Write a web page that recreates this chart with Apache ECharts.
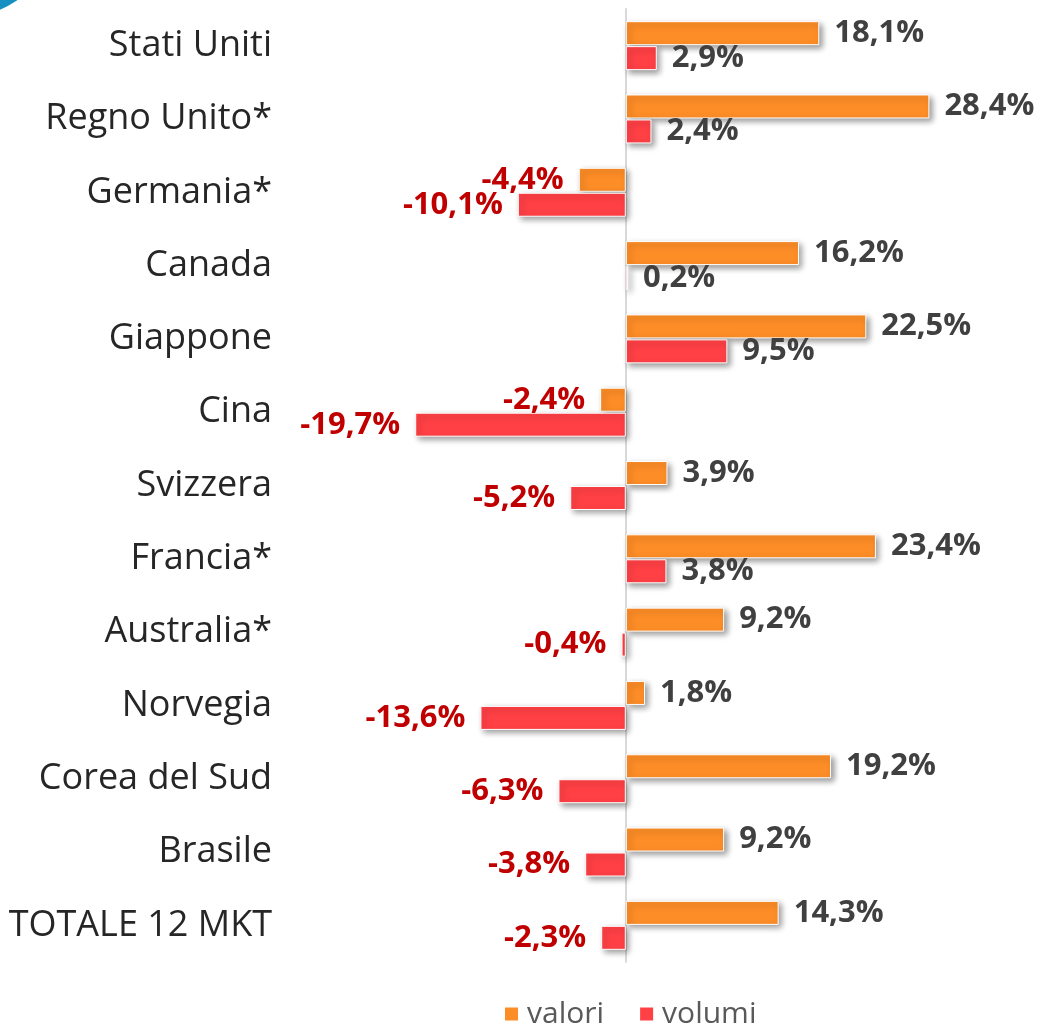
<!DOCTYPE html>
<html lang="it">
<head>
<meta charset="UTF-8">
<title>valori / volumi</title>
<script src="https://cdn.jsdelivr.net/npm/echarts@6/dist/echarts.min.js"></script>
<style>
  html, body { margin: 0; padding: 0; background: #fff; }
  #main { width: 1043px; height: 1024px; }
</style>
</head>
<body>
<div id="main"></div>
<script>
// dati
var paesi = ['Stati Uniti', 'Regno Unito*', 'Germania*', 'Canada', 'Giappone', 'Cina',
  'Svizzera', 'Francia*', 'Australia*', 'Norvegia', 'Corea del Sud', 'Brasile', 'TOTALE 12 MKT'];
var valori = [18.1, 28.4, -4.4, 16.2, 22.5, -2.4, 3.9, 23.4, 9.2, 1.8, 19.2, 9.2, 14.3];
var volumi = [2.9, 2.4, -10.1, 0.2, 9.5, -19.7, -5.2, 3.8, -0.4, -13.6, -6.3, -3.8, -2.3];

var font = '"Open Sans", "Noto Sans", sans-serif';

function fmt(v) {
  return v.toFixed(1).replace('.', ',') + '%';
}

// ogni punto con etichetta a destra o a sinistra secondo il segno
function punti(arr) {
  return arr.map(function (v) {
    return {
      value: v,
      label: {
        position: v < 0 ? 'left' : 'right',
        color: v < 0 ? '#C00000' : '#404040'
      }
    };
  });
}

var barStyle = function (color) {
  return {
    color: color,
    borderColor: '#fff',
    borderWidth: 1,
    shadowColor: 'rgba(0,0,0,0.4)',
    shadowBlur: 6,
    shadowOffsetX: 3,
    shadowOffsetY: 3
  };
};

var barLabel = {
  show: true,
  distance: 15,
  fontFamily: font,
  fontWeight: 'bold',
  fontSize: 31,
  formatter: function (p) { return fmt(p.value); }
};

var myChart = echarts.init(document.getElementById('main'));

var option = {
  animation: false,
  textStyle: { fontFamily: font },
  graphic: [{
    type: 'circle',
    shape: { cx: -40, cy: -83, r: 101 },
    style: { fill: '#1590c0' }
  }],
  legend: {
    data: ['valori', 'volumi'],
    left: 498,
    top: 994,
    icon: 'rect',
    itemWidth: 15,
    itemHeight: 15,
    itemGap: 34,
    textStyle: { fontSize: 30, color: '#595959', fontFamily: font, padding: [0, 0, 0, 3] }
  },
  grid: {
    left: 412,
    top: 9,
    width: 620,
    height: 953,
    outerBoundsMode: 'none',
    containLabel: false
  },
  xAxis: {
    type: 'value',
    min: -20,
    max: 38,
    show: false,
    splitLine: { show: false }
  },
  yAxis: {
    type: 'category',
    data: paesi,
    inverse: true,
    axisLine: { onZero: true, lineStyle: { color: '#d9d9d9', width: 2 } },
    axisTick: { show: false },
    axisLabel: {
      margin: 140,
      fontSize: 36,
      color: '#262626',
      fontFamily: font
    }
  },
  series: [
    {
      name: 'valori',
      type: 'bar',
      barWidth: 24,
      barGap: '4%',
      data: punti(valori),
      itemStyle: barStyle('#FD8D27'),
      label: barLabel
    },
    {
      name: 'volumi',
      type: 'bar',
      barWidth: 24,
      data: punti(volumi),
      itemStyle: barStyle('#FF4045'),
      label: barLabel
    }
  ]
};

myChart.setOption(option);
</script>
</body>
</html>
